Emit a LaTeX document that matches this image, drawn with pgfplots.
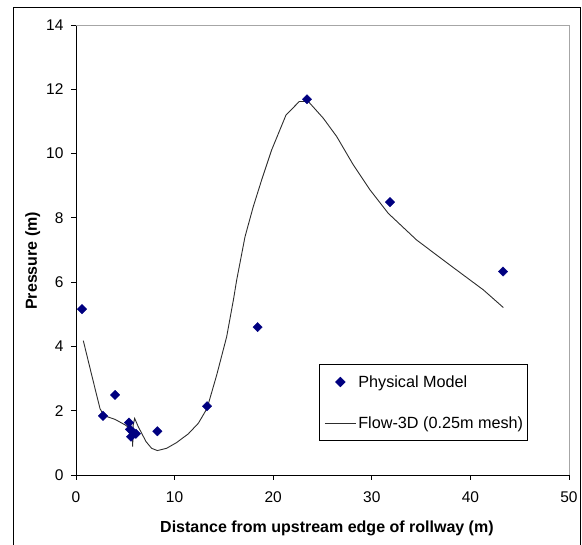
\documentclass[border=0pt]{standalone}
\usepackage{pgfplots}
\pgfplotsset{compat=1.18}
\usepackage{fontspec}
\setmainfont{Liberation Sans}
\definecolor{navy}{RGB}{0,0,128}
\definecolor{simline}{RGB}{45,45,45}
\begin{document}
\begin{tikzpicture}
    \useasboundingbox (-76pt,-70pt) rectangle (506pt,475pt);
    \draw[black, line width=0.8pt] (-63pt,-72pt) rectangle (504pt,468pt);
    \begin{axis}[
        scale only axis,
        width=493pt,
        height=450pt,
        xmin=0, xmax=50,
        ymin=0, ymax=14,
        xtick={0,10,20,30,40,50},
        ytick={0,2,4,6,8,10,12,14},
        axis lines=left,
        axis line style={-, black, line width=0.8pt},
        tick align=outside,
        major tick length=5pt,
        tick style={black, line width=0.8pt},
        minor tick num=0,
        /pgf/number format/assume math mode=true,
        ticklabel style={font=\fontsize{15.5}{18}\selectfont},
        xticklabel style={yshift=-8pt},
        yticklabel style={xshift=-4pt},
        xlabel={\textbf{Distance from upstream edge of rollway (m)}},
        ylabel={\textbf{Pressure (m)}},
        label style={font=\fontsize{16}{18}\selectfont},
        xlabel style={at={(axis description cs:0.509,-0.118)}, anchor=center},
        ylabel style={at={(axis description cs:-0.088,0.476)}, anchor=center},
        legend style={at={(axis description cs:0.493,0.2467)}, anchor=north west,
            draw=black, fill=white, line width=0.8pt,
            font=\fontsize{16.2}{18}\selectfont,
            row sep=24pt, inner xsep=2pt, inner ysep=9pt,
            nodes={inner xsep=2pt},
            cells={anchor=west}},
        legend image code/.code={
            \path (0pt,0pt);
            \draw[mark repeat=2, mark phase=2, #1] plot coordinates {(3pt,0pt) (18.5pt,0pt) (34pt,0pt)};},
        clip=false,
    ]
        % gray top and right frame of the plot area
        \draw[gray!70, line width=0.8pt] (rel axis cs:0,1) -- (rel axis cs:1,1) -- (rel axis cs:1,0);

        \addplot[only marks, mark=square*, mark size=3.3pt,
                 mark options={rotate=45, fill=navy, draw=navy}] coordinates {
            (0.61,5.16)
            (2.74,1.84)
            (3.96,2.49)
            (5.38,1.63)
            (5.48,1.42)
            (5.58,1.19)
            (5.81,1.32)
            (6.08,1.28)
            (8.25,1.36)
            (13.29,2.14)
            (18.42,4.60)
            (23.43,11.69)
            (31.85,8.49)
            (43.31,6.33)
        };
        \addlegendentry{Physical Model}

        \addplot[simline, line width=0.9pt, no markers] coordinates {
            (0.74,4.18)
            (1.60,3.10)
            (2.43,2.07)
            (2.60,1.97)
            (3.11,1.82)
            (3.96,1.73)
            (4.97,1.56)
            (5.48,1.45)
            (5.70,1.35)
            (5.75,0.88)
            (5.80,1.55)
            (5.95,1.76)
            (6.32,1.50)
            (7.10,1.04)
            (7.67,0.83)
            (8.25,0.76)
            (9.19,0.83)
            (10.21,1.01)
            (11.39,1.28)
            (12.41,1.61)
            (13.29,2.07)
            (14.27,3.11)
            (15.28,4.30)
            (15.96,5.44)
            (16.30,6.07)
            (17.14,7.41)
            (17.98,8.35)
            (18.83,9.18)
            (19.84,10.11)
            (21.30,11.20)
            (22.65,11.62)
            (23.56,11.62)
            (25.08,11.10)
            (26.44,10.53)
            (28.12,9.65)
            (29.82,8.87)
            (31.67,8.14)
            (34.55,7.31)
            (37.93,6.53)
            (41.31,5.76)
            (43.34,5.21)
        };
        \addlegendentry{Flow-3D (0.25m mesh)}
    \end{axis}
\end{tikzpicture}
\end{document}
